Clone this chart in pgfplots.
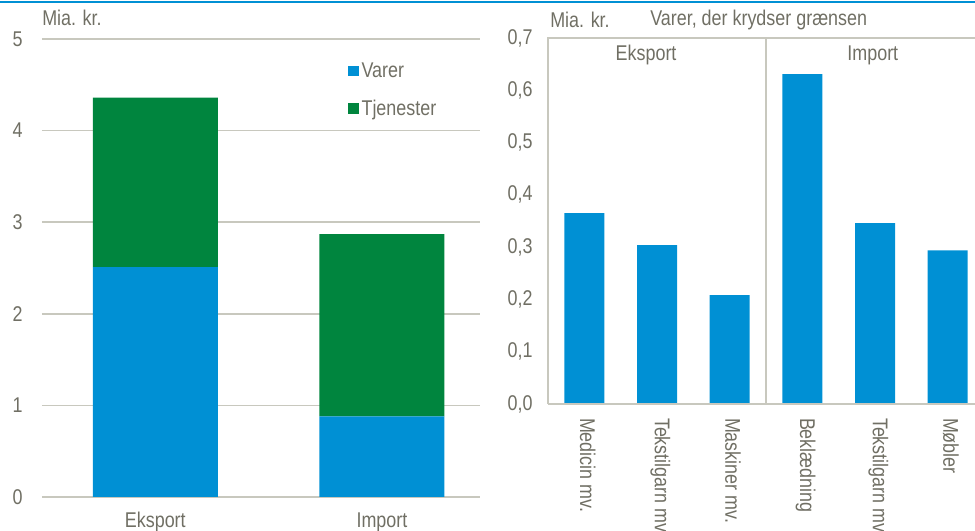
\documentclass[border=0pt]{standalone}
\usepackage{fontspec}
\setmainfont{Liberation Sans}[FakeStretch=0.84]
\usepackage{pgfplots}
\pgfplotsset{compat=1.18}
\definecolor{txt}{RGB}{112,111,100}
\definecolor{grd}{RGB}{200,200,190}
\definecolor{bl}{RGB}{0,144,212}
\definecolor{gr}{RGB}{0,133,62}
\newcommand{\cf}{\fontsize{16}{19}\selectfont}
\begin{document}
\begin{tikzpicture}
\path[use as bounding box] (0pt,0pt) rectangle (731.25pt,398.25pt);
\draw[bl, line width=1.6pt] (0pt,396.9pt) -- (731.25pt,396.9pt);
% left chart
\begin{axis}[
  at={(31.5pt,25.5pt)}, anchor=south west, scale only axis,
  width=328.5pt, height=343.5pt,
  ybar stacked, bar width=93.75pt,
  xmin=-0.5, xmax=1.4327, ymin=0, ymax=5,
  xtick={0,1}, xticklabels={Eksport,Import},
  ytick={0,1,2,3,4,5},
  axis line style={draw=none}, major tick length=0pt,
  ymajorgrids, grid style={grd, line width=1.1pt},
  tick label style={font=\cf, text=txt},
  /pgf/number format/assume math mode=true,
  yticklabel style={xshift=-11pt},
  xticklabel style={yshift=-8pt},
  clip=false,
  legend style={draw=none, fill=none, at={(0.69,0.96)}, anchor=north west,
    font=\cf, text=txt, row sep=11pt, cells={anchor=west}},
  legend image code/.code={\fill[#1] (0pt,-3.9pt) rectangle (7.8pt,3.9pt);},
]
\addplot[fill=bl, draw=none] coordinates {(0,2.51) (1,0.88)};
\addplot[fill=gr, draw=none] coordinates {(0,1.85) (1,1.99)};
\legend{Varer,Tjenester}
\end{axis}
% right chart
\begin{axis}[
  at={(411pt,95.25pt)}, anchor=south west, scale only axis,
  width=327pt, height=274.5pt,
  ybar, bar width=30pt,
  xmin=-0.5, xmax=5.5, ymin=0, ymax=0.7,
  xtick={0,1,2,3,4,5},
  xticklabels={Medicin mv.,Tekstilgarn mv.,Maskiner mv.,Beklædning,Tekstilgarn mv.,Møbler},
  ytick={0,0.1,0.2,0.3,0.4,0.5,0.6,0.7},
  /pgf/number format/use comma, /pgf/number format/fixed,
  /pgf/number format/fixed zerofill, /pgf/number format/precision=1,
  axis line style={draw=none}, major tick length=0pt,
  tick label style={font=\cf, text=txt},
  /pgf/number format/assume math mode=true,
  yticklabel style={xshift=-8pt},
  xticklabel style={rotate=-90, anchor=west, xshift=7pt, yshift=2.5pt},
  clip=false,
]
\addplot[fill=bl, draw=none] coordinates {(0,0.365) (1,0.304) (2,0.208) (3,0.631) (4,0.346) (5,0.294)};
\draw[grd, line width=1.1pt] (axis cs:-0.5,0) -- (axis cs:-0.5,0.7) -- (axis cs:5.5,0.7);
\draw[grd, line width=1.1pt] (axis cs:-0.5,0) -- (axis cs:5.5,0);
\draw[grd, line width=1.1pt] (axis cs:2.5,0) -- (axis cs:2.5,0.7);
\node[font=\cf, text=txt] at (axis cs:0.85,0.667) {Eksport};
\node[font=\cf, text=txt] at (axis cs:3.97,0.667) {Import};
\end{axis}
\node[anchor=west, inner sep=0pt, font=\cf, text=txt] at (31.5pt,384.75pt) {Mia. kr.};
\node[anchor=west, inner sep=0pt, font=\cf, text=txt] at (412.5pt,383.25pt) {Mia. kr.};
\node[anchor=west, inner sep=0pt, font=\cf, text=txt] at (487.5pt,383.25pt) {Varer, der krydser grænsen};
\end{tikzpicture}
\end{document}
